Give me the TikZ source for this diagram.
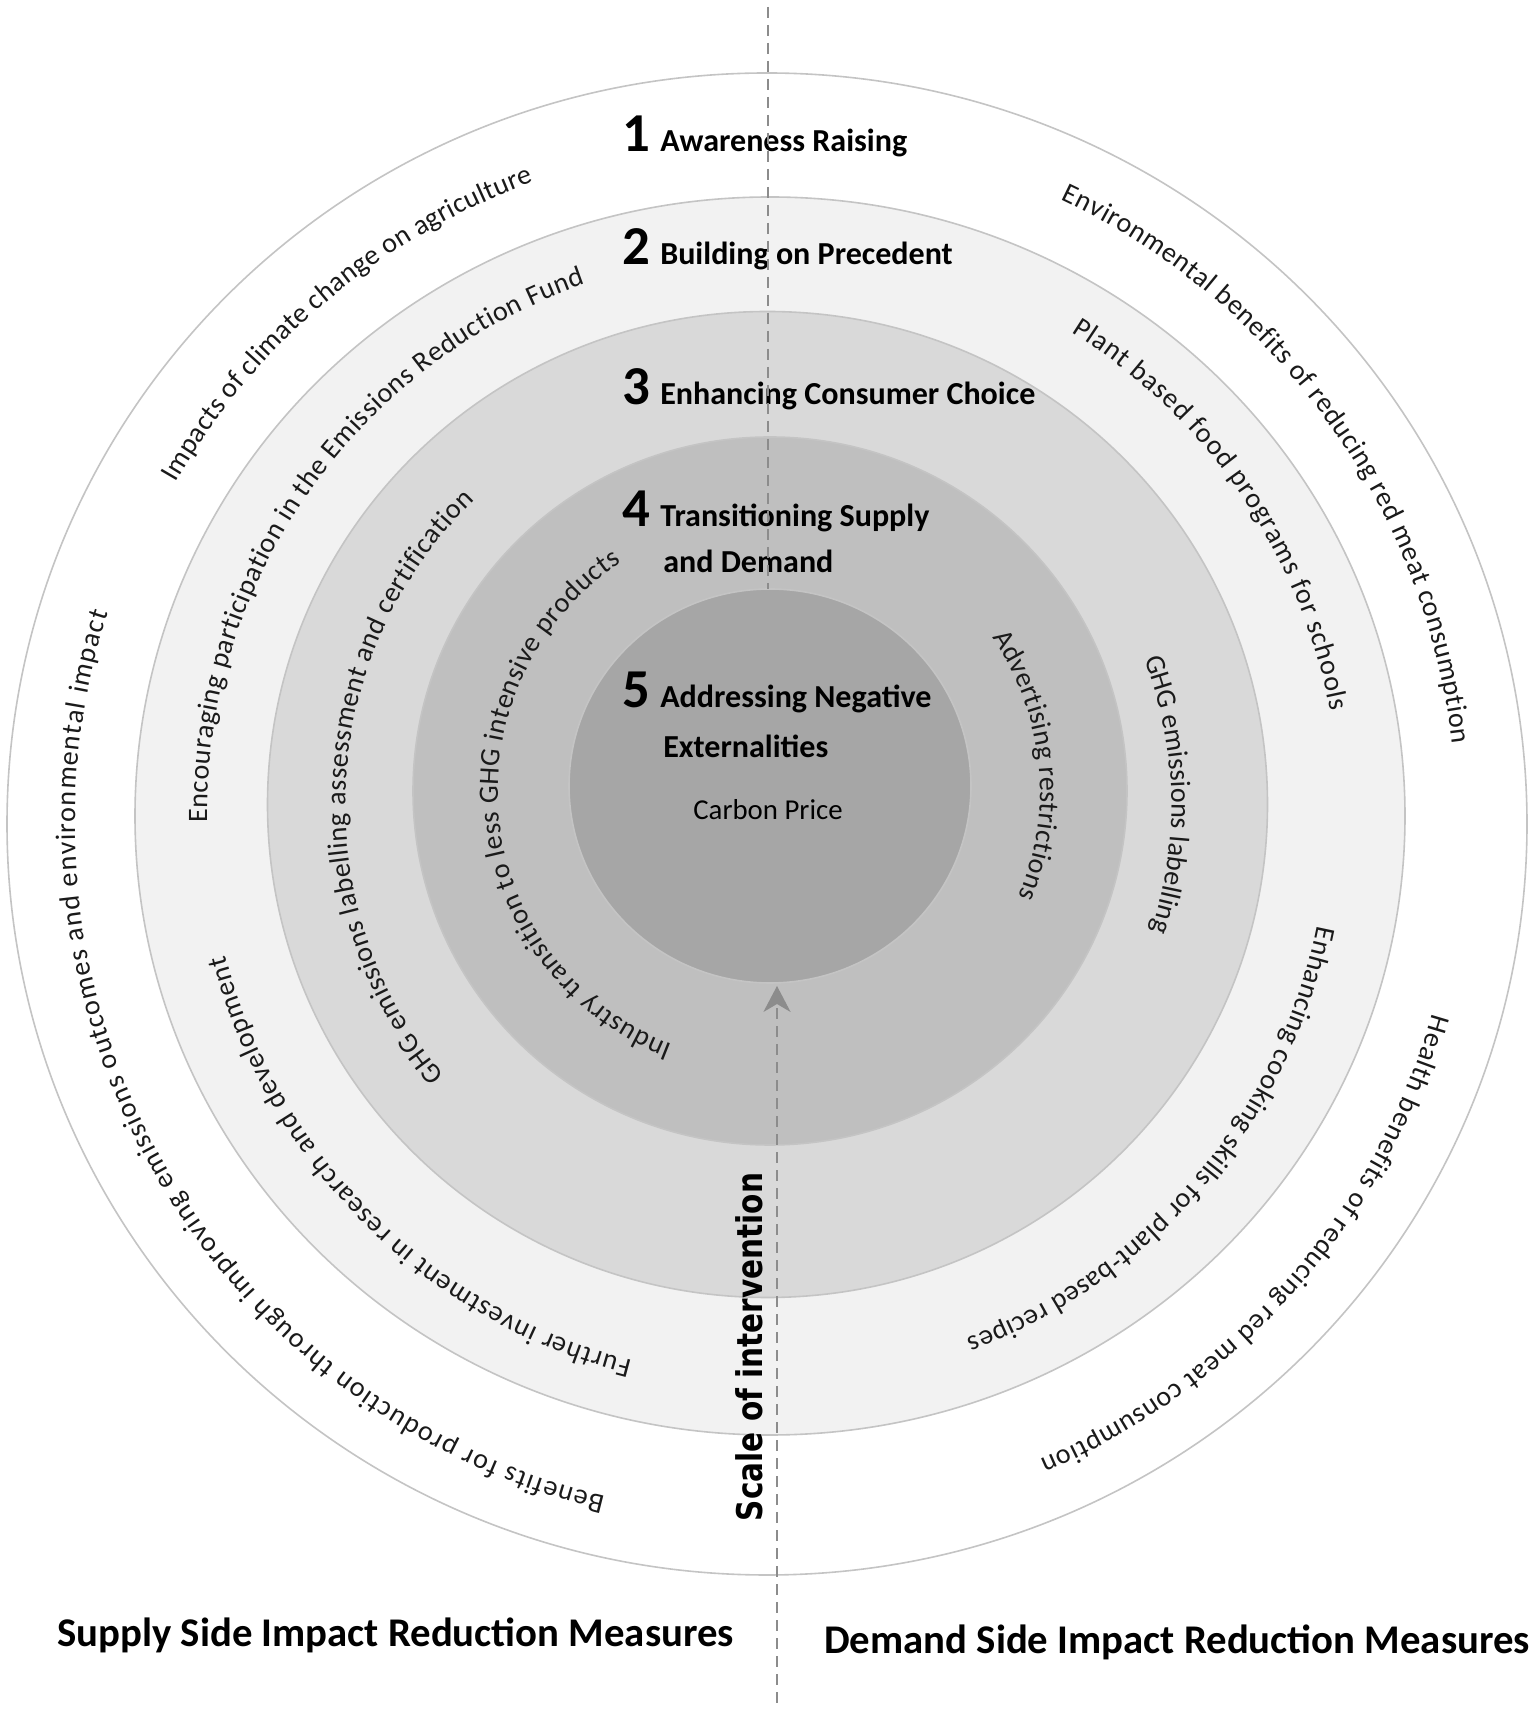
\documentclass[tikz,border=0pt]{standalone}
\usepackage{fontspec}
\usepackage{graphicx}
\setmainfont{Carlito}
\newfontfamily\wideface{DejaVu Sans}
\usetikzlibrary{arrows.meta, decorations.text, positioning}
\definecolor{ringline}{HTML}{C4C4C4}
\definecolor{fillA}{HTML}{F2F2F2}
\definecolor{fillB}{HTML}{D9D9D9}
\definecolor{fillC}{HTML}{BFBFBF}
\definecolor{fillD}{HTML}{A6A6A6}
\definecolor{dashgray}{HTML}{8C8C8C}
\definecolor{arcink}{HTML}{1A1A1A}
\newcommand\ringnum{\fontsize{39pt}{44pt}\selectfont\bfseries}
\newcommand\ringhead{\fontsize{22.8pt}{26pt}\selectfont\bfseries}
\newcommand\ringarc{\fontsize{20pt}{23pt}\selectfont}
\newcommand\sidehead{\fontsize{29pt}{33pt}\selectfont\bfseries}
\newcommand\pricehead{\fontsize{20.5pt}{24pt}\selectfont}

\begin{document}
\begin{tikzpicture}[x=0.25mm, y=0.25mm,
        ring/.style={draw=ringline, line width=0.4mm},
        guide/.style={draw=dashgray, line width=0.35mm, dash pattern=on 2.8mm off 1.7mm},
        numlabel/.style={font=\ringnum, anchor=base west, inner sep=0pt},
        headlabel/.style={font=\ringhead, anchor=base west, inner sep=0pt},
        sidelabel/.style={font=\sidehead, anchor=base west, inner sep=0pt},
        arclabel/.style={decorate, decoration={text along path, text align={fit to path}, text color=arcink, text={|\ringarc|#1}}}
    ]
        \useasboundingbox (0,0) rectangle (1535,1710);

        \coordinate (o1) at (767,886);
        \coordinate (o2) at (770,894);
        \coordinate (o3) at (767.5,905.5);
        \coordinate (o4) at (770,919);
        \coordinate (o5) at (770,924);

        \draw[ring, fill=white] (o1) ellipse[x radius=760, y radius=751];
        \draw[ring, fill=fillA] (o2) ellipse[x radius=635, y radius=619];
        \draw[ring, fill=fillB] (o3) ellipse[x radius=500, y radius=493];
        \draw[ring, fill=fillC] (o4) ellipse[x radius=357, y radius=354];
        \draw[ring, fill=fillD] (o5) ellipse[x radius=201, y radius=197];

        % supply side, left half
        \path[arclabel={Impacts of climate change on agriculture}] ([shift={(150:683)}]o1) arc[start angle=150, end angle=110, radius=683];
        \path[arclabel={Encouraging participation in the Emissions Reduction Fund}] ([shift={(180.7:563)}]o2) arc[start angle=180.7, end angle=109.2, radius=563];
        \path[arclabel={GHG emissions labelling assessment and certification}] ([shift={(220:422)}]o3) arc[start angle=220, end angle=134, radius=422];
        \path[arclabel={Industry transition to less GHG intensive products}] ([shift={(249:272)}]o4) arc[start angle=249, end angle=123, radius=272];
        \path[arclabel={Benefits for production through improving emissions outcomes and environmental impact}] ([shift={(256.5:692)}]o1) arc[start angle=256.5, end angle=162.3, radius=692];
        \path[arclabel={Further investment in research and development}] ([shift={(255.8:562)}]o2) arc[start angle=255.8, end angle=194.4, radius=562];

        % demand side, right half
        \path[arclabel={Environmental benefits of reducing red meat consumption}] ([shift={(64.8:690)}]o1) arc[start angle=64.8, end angle=6.7, radius=690];
        \path[arclabel={Plant based food programs for schools}] ([shift={(58.1:570)}]o2) arc[start angle=58.1, end angle=10.6, radius=570];
        \path[arclabel={GHG emissions labelling}] ([shift={(21.1:404)}]o3) arc[start angle=21.1, end angle=-18.2, radius=404];
        \path[arclabel={Advertising restrictions}] ([shift={(34.6:270)}]o4) arc[start angle=34.6, end angle=-23, radius=270];
        \path[arclabel={Enhancing cooking skills for plant-based recipes}] ([shift={(-11.3:558)}]o2) arc[start angle=-11.3, end angle=-69.3, radius=558];
        \path[arclabel={Health benefits of reducing red meat consumption}] ([shift={(-15.9:692)}]o1) arc[start angle=-15.9, end angle=-66.7, radius=692];

        \node[numlabel] (n1) at (622,1558) {1};
        \node[headlabel] (h1) at (660,1558) {Awareness Raising};
        \node[numlabel] (n2) at (622,1445) {2};
        \node[headlabel] (h2) at (660,1445) {Building on Precedent};
        \node[numlabel] (n3) at (622,1305) {3};
        \node[headlabel] (h3) at (660,1305) {Enhancing Consumer Choice};
        \node[numlabel] (n4) at (622,1183) {4};
        \node[headlabel] (h4) at (660,1183) {Transitioning Supply};
        \node[headlabel] (h4b) at (663,1137) {and Demand};
        \node[numlabel] (n5) at (622,1002) {5};
        \node[headlabel] (h5) at (660,1002) {Addressing Negative};
        \node[headlabel] (h5b) at (663,952) {Externalities};
        \node[font=\pricehead, anchor=base, inner sep=0pt] (price) at (768,890) {Carbon Price};

        \coordinate (topend) at (768,1703);
        \coordinate (ring5top) at (768,1121);
        \coordinate (baseend) at (777,7);
        \coordinate (ring5tip) at (777,724);
        \draw[guide] (topend) -- (ring5top);
        \draw[guide, -{Stealth[length=6.5mm, width=6.8mm, inset=2mm]}] (baseend) -- (ring5tip);

        \node[font=\wideface\bfseries\fontsize{21pt}{24pt}\selectfont, rotate=90, anchor=base, inner sep=0pt] (scale) at (762,363) {\scalebox{1}[1.2]{Scale of intervention}};

        \node[sidelabel] (supply) at (57,63) {Supply Side Impact Reduction Measures};
        \node[sidelabel] (demand) at (824,56) {Demand Side Impact Reduction Measures};
    \end{tikzpicture}
\end{document}
